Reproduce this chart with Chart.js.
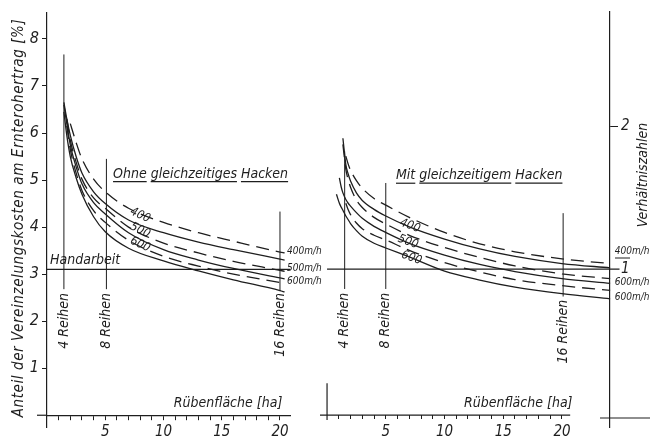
<!DOCTYPE html>
<html>
<head>
<meta charset="utf-8">
<script src="https://cdn.jsdelivr.net/npm/chart.js@4.4.1/dist/chart.umd.min.js"></script>
<style>
    html, body { margin: 0; padding: 0; background: #fff; }
    #wrap { position: relative; width: 654px; height: 442px; overflow: hidden; background: #fff; }
    canvas { position: absolute; top: 0; }
    #left { left: 0; }
    #right { left: 300px; }
</style>
</head>
<body>
<div id="wrap">
    <canvas id="left" width="330" height="442"></canvas>
    <canvas id="right" width="354" height="442"></canvas>
</div>
<script>
const INK = '#1e1e1e';
const FONT = '"DejaVu Sans Condensed", "DejaVu Sans", sans-serif';

// Ohne gleichzeitiges Hacken (left panel), share of cost in %
const leftX = [1.45, 1.7, 2, 2.5, 3, 4, 5, 7, 10, 13, 16, 20, 20.4];
const left400Dash  = [null, null, 6.2, 5.8, 5.45, 5.02, 4.75, 4.4, 4.1, 3.88, 3.7, 3.47, 3.45];
const left400Solid = [6.65, 6.3, 5.95, 5.5, 5.15, 4.75, 4.5, 4.15, 3.88, 3.68, 3.52, 3.32, 3.3];
const left500Dash  = [null, 6.3, 5.85, 5.38, 5.02, 4.62, 4.4, 4.0, 3.66, 3.45, 3.27, 3.08, 3.06];
const left500Solid = [6.6, 6.2, 5.75, 5.28, 4.92, 4.52, 4.28, 3.88, 3.52, 3.3, 3.12, 2.92, 2.9];
const left600Dash  = [null, 6.15, 5.65, 5.15, 4.78, 4.35, 4.1, 3.72, 3.38, 3.17, 3.0, 2.82, 2.8];
const left600Solid = [6.45, 5.95, 5.5, 5.05, 4.7, 4.22, 3.9, 3.55, 3.28, 3.07, 2.88, 2.65, 2.62];

// Mit gleichzeitigem Hacken (right panel)
const rightX = [0.8, 1.05, 1.2, 1.35, 1.6, 1.8, 2, 2.5, 3, 4, 5, 7, 10, 13, 16, 20, 24.1];
const right400Dash  = [null, null, null, null, 5.5, 5.33, 5.2, 4.98, 4.82, 4.6, 4.46, 4.2, 3.88, 3.64, 3.47, 3.32, 3.22];
const right400Solid = [null, null, null, 5.88, 5.32, 5.12, 4.97, 4.72, 4.56, 4.37, 4.23, 4.0, 3.74, 3.53, 3.37, 3.22, 3.13];
const right500Dash  = [null, null, null, 5.75, 5.22, 5.0, 4.84, 4.57, 4.41, 4.2, 4.06, 3.82, 3.56, 3.35, 3.17, 3.0, 2.9];
const right500Solid = [null, 5.04, 4.85, 4.72, 4.58, 4.5, 4.44, 4.3, 4.18, 4.01, 3.88, 3.65, 3.4, 3.2, 3.05, 2.9, 2.8];
const right600Dash  = [null, null, null, null, 4.5, 4.36, 4.26, 4.08, 3.96, 3.82, 3.72, 3.5, 3.24, 3.04, 2.88, 2.75, 2.65];
const right600Solid = [4.69, 4.5, 4.42, 4.35, 4.23, 4.15, 4.07, 3.92, 3.8, 3.65, 3.55, 3.36, 3.06, 2.87, 2.72, 2.58, 2.47];

// Handarbeit level and row markers (Reihen)
const handarbeit = 3.1;
const leftHandX = [0, 20.9];
const rightHandX = [0, 24.9];
const leftReihenX = [1.45, 5.1, 20];
const leftReihenTop = [7.67, 5.45, 4.33];
const leftReihenBottom = [2.68, 2.68, 2.64];
const rightReihenX = [1.5, 5, 20.1];
const rightReihenTop = [5.6, 4.93, 4.29];
const rightReihenBottom = [2.68, 2.68, 2.52];
const reihenLabels = ['4 Reihen', '8 Reihen', '16 Reihen'];
const speedLabels = ['400', '500', '600'];

function curve(xs, ys, dashed) {
    return {
        data: xs.map((x, i) => ({ x: x, y: ys[i] })),
        borderColor: INK,
        borderWidth: 1.3,
        borderDash: dashed ? [13, 7] : [],
        pointRadius: 0,
        cubicInterpolationMode: 'monotone',
        fill: false,
        clip: false
    };
}

function vline(x, y1, y2) {
    return {
        data: [{ x: x, y: y1 }, { x: x, y: y2 }],
        borderColor: INK,
        borderWidth: 1,
        pointRadius: 0,
        tension: 0,
        clip: false
    };
}

function hline(xs, y) {
    return {
        data: xs.map(x => ({ x: x, y: y })),
        borderColor: INK,
        borderWidth: 1.2,
        pointRadius: 0,
        tension: 0,
        clip: false
    };
}

// draws the lettering and the few extra axis strokes
const sketchText = {
    id: 'sketchText',
    afterDraw(chart, args, opts) {
        const ctx = chart.ctx;
        const sx = chart.scales.x, sy = chart.scales.y;
        ctx.save();
        ctx.strokeStyle = INK;
        ctx.fillStyle = INK;
        (opts.strokes || []).forEach(s => {
            ctx.lineWidth = s.width || 1.2;
            ctx.beginPath();
            ctx.moveTo(s.px1 !== undefined ? s.px1 : sx.getPixelForValue(s.x1), s.py1 !== undefined ? s.py1 : sy.getPixelForValue(s.y1));
            ctx.lineTo(s.px2 !== undefined ? s.px2 : sx.getPixelForValue(s.x2), s.py2 !== undefined ? s.py2 : sy.getPixelForValue(s.y2));
            ctx.stroke();
        });
        (opts.items || []).forEach(t => {
            const px = t.px !== undefined ? t.px : sx.getPixelForValue(t.x);
            const py = t.py !== undefined ? t.py : sy.getPixelForValue(t.y);
            ctx.save();
            ctx.translate(px, py);
            if (t.rotate) ctx.rotate(t.rotate * Math.PI / 180);
            ctx.font = 'italic ' + (t.size || 14) + 'px ' + FONT;
            ctx.letterSpacing = (t.spacing || 0) + 'px';
            ctx.textAlign = t.align || 'left';
            ctx.textBaseline = t.baseline || 'alphabetic';
            ctx.fillText(t.text, 0, 0);
            if (t.underline) {
                // every word gets its own underline
                ctx.lineWidth = 1.2;
                let offset = 0;
                t.text.split(' ').forEach(word => {
                    const w = ctx.measureText(word).width;
                    ctx.beginPath();
                    ctx.moveTo(offset, 4);
                    ctx.lineTo(offset + w, 4);
                    ctx.stroke();
                    offset += w + ctx.measureText(' ').width;
                });
            }
            ctx.restore();
        });
        ctx.restore();
    }
};

const tickFont = { family: FONT, size: 15, style: 'italic' };
const hidden = 'rgba(0,0,0,0)';

function baseOptions() {
    return {
        responsive: false,
        animation: false,
        devicePixelRatio: 1,
        events: [],
        plugins: { legend: { display: false }, tooltip: { enabled: false } }
    };
}

// ---------- left panel ----------
const leftDatasets = [
    curve(leftX, left400Dash, true),
    curve(leftX, left400Solid, false),
    curve(leftX, left500Dash, true),
    curve(leftX, left500Solid, false),
    curve(leftX, left600Dash, true),
    curve(leftX, left600Solid, false),
    hline(leftHandX, handarbeit)
].concat(leftReihenX.map((x, i) => vline(x, leftReihenBottom[i], leftReihenTop[i])));

const leftOptions = baseOptions();
leftOptions.layout = { padding: { left: 0, right: 40, top: 10, bottom: 15 } };
leftOptions.scales = {
    x: {
        type: 'linear', min: 0, max: 20.86, position: { y: 0 },
        border: { color: INK, width: 1.2 },
        grid: { drawOnChartArea: false, tickLength: 4, tickColor: ctx => ctx.tick && ctx.tick.value > 0 ? INK : hidden },
        ticks: {
            stepSize: 1, includeBounds: false, autoSkip: false, maxRotation: 0, padding: 4,
            color: INK, font: tickFont,
            callback: v => (v > 0 && v % 5 === 0) ? String(v) : ''
        }
    },
    y: {
        type: 'linear', min: -0.25, max: 8.56, position: 'left',
        border: { color: INK, width: 1.2 },
        grid: { drawOnChartArea: false, tickLength: 5, tickColor: ctx => ctx.tick && ctx.tick.value > 0 ? INK : hidden },
        ticks: {
            stepSize: 1, includeBounds: false, autoSkip: false, padding: 3,
            color: INK, font: { family: FONT, size: 16, style: 'italic' },
            callback: v => v > 0 ? String(v) : ''
        },
        afterFit: scale => { scale.width = 47; }
    }
};
leftOptions.plugins.sketchText = {
    strokes: [
        { px1: 37, y1: 0, px2: 47, y2: 0 }
    ],
    items: [
        { text: 'Anteil der Vereinzelungskosten am Ernterohertrag [%]', px: 19, py: 218, rotate: -90, align: 'center', baseline: 'middle', size: 15, spacing: 0.6 },
        { text: 'Handarbeit', x: 0.26, y: 3.21, size: 14 },
        { text: 'Ohne gleichzeitiges Hacken', x: 5.67, y: 5.05, size: 14, underline: true },
        { text: speedLabels[0], x: 8.0, y: 4.25, rotate: 25, align: 'center', baseline: 'middle', size: 12 },
        { text: speedLabels[1], x: 8.0, y: 3.93, rotate: 25, align: 'center', baseline: 'middle', size: 12 },
        { text: speedLabels[2], x: 8.0, y: 3.63, rotate: 25, align: 'center', baseline: 'middle', size: 12 },
        { text: speedLabels[0] + 'm/h', x: 20.6, y: 3.42, size: 10 },
        { text: speedLabels[1] + 'm/h', x: 20.6, y: 3.07, size: 10 },
        { text: speedLabels[2] + 'm/h', x: 20.6, y: 2.79, size: 10 },
        { text: 'Rübenfläche [ha]', x: 20.2, y: 0.17, align: 'right', size: 14 }
    ].concat(leftReihenX.map((x, i) => ({
        text: reihenLabels[i], x: x, y: 2.6, rotate: -90, align: 'right', baseline: 'middle', size: 14
    })))
};

new Chart(document.getElementById('left'), {
    type: 'line',
    data: { datasets: leftDatasets },
    options: leftOptions,
    plugins: [sketchText]
});

// ---------- right panel ----------
const rightDatasets = [
    curve(rightX, right400Dash, true),
    curve(rightX, right400Solid, false),
    curve(rightX, right500Dash, true),
    curve(rightX, right500Solid, false),
    curve(rightX, right600Dash, true),
    curve(rightX, right600Solid, false),
    hline(rightHandX, handarbeit)
].concat(rightReihenX.map((x, i) => vline(x, rightReihenBottom[i], rightReihenTop[i])));

const rightOptions = baseOptions();
rightOptions.layout = { padding: { left: 20, right: 14, top: 10, bottom: 15 } };
rightOptions.scales = {
    x: {
        type: 'linear', min: -0.6, max: 24.09, position: { y: 0 },
        border: { display: false },
        grid: { drawOnChartArea: false, tickLength: 4, tickColor: ctx => ctx.tick && ctx.tick.value > 0 && ctx.tick.value <= 20 ? INK : hidden },
        ticks: {
            stepSize: 1, includeBounds: false, autoSkip: false, maxRotation: 0, padding: 4,
            color: INK, font: tickFont,
            callback: v => (v > 0 && v <= 20 && v % 5 === 0) ? String(v) : ''
        }
    },
    y: { type: 'linear', min: -0.25, max: 8.56, display: false },
    y2: {
        type: 'linear', min: -0.112, max: 2.804, position: 'right',
        border: { color: INK, width: 1.2 },
        grid: { drawOnChartArea: false, tickLength: 8, tickColor: ctx => ctx.tick && ctx.tick.value === 2 ? INK : hidden },
        ticks: {
            stepSize: 1, includeBounds: false, autoSkip: false, padding: 3,
            color: INK, font: tickFont,
            callback: v => (v === 1 || v === 2) ? String(v) : ''
        },
        afterFit: scale => { scale.width = 30; }
    }
};
rightOptions.plugins.sketchText = {
    strokes: [
        { x1: -0.6, y1: 0, x2: 20.7, y2: 0 },
        { x1: 0, y1: -0.1, x2: 0, y2: 0.68 },
        { px1: 300, py1: 418, px2: 350, py2: 418 },
        { px1: 315, py1: 258, px2: 330, py2: 258, width: 1 }
    ],
    items: [
        { text: 'Verhältniszahlen', px: 343, py: 175, rotate: -90, align: 'center', baseline: 'middle', size: 14 },
        { text: 'Mit gleichzeitigem Hacken', x: 5.87, y: 5.01, size: 14, underline: true },
        { text: speedLabels[0], x: 7.06, y: 4.02, rotate: 20, align: 'center', baseline: 'middle', size: 12 },
        { text: speedLabels[1], x: 6.9, y: 3.68, rotate: 20, align: 'center', baseline: 'middle', size: 12 },
        { text: speedLabels[2], x: 7.2, y: 3.34, rotate: 20, align: 'center', baseline: 'middle', size: 12 },
        { text: '400m/h', x: 24.5, y: 3.42, size: 10 },
        { text: '600m/h', x: 24.5, y: 2.77, size: 10 },
        { text: '600m/h', x: 24.5, y: 2.45, size: 10 },
        { text: 'Rübenfläche [ha]', x: 20.9, y: 0.17, align: 'right', size: 14 }
    ].concat(rightReihenX.map((x, i) => ({
        text: reihenLabels[i], x: x, y: i === 2 ? 2.45 : 2.6, rotate: -90, align: 'right', baseline: 'middle', size: 14
    })))
};

new Chart(document.getElementById('right'), {
    type: 'line',
    data: { datasets: rightDatasets },
    options: rightOptions,
    plugins: [sketchText]
});
</script>
</body>
</html>
